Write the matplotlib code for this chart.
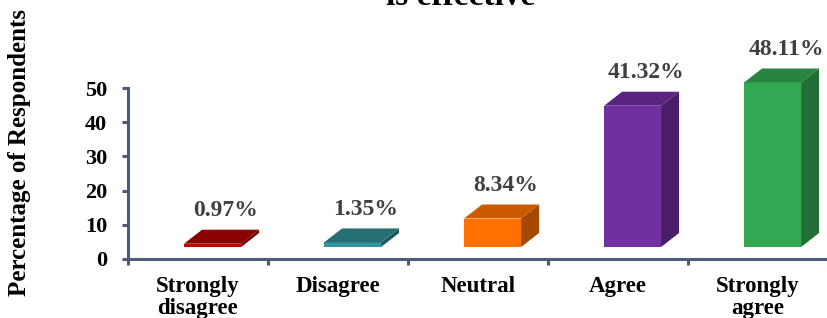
import matplotlib
matplotlib.use('Agg')
import matplotlib.pyplot as plt
from matplotlib.patches import Polygon

categories = ['Strongly\ndisagree', 'Disagree', 'Neutral', 'Agree', 'Strongly\nagree']
values = [0.97, 1.35, 8.34, 41.32, 48.11]
front_colors = ['#c00000', '#31959b', '#ff7000', '#7030a0', '#33a852']
top_colors = ['#8b0000', '#256f73', '#cc5a00', '#5a2381', '#278540']
side_colors = ['#6e0000', '#1c5a5d', '#a54800', '#4a1e66', '#226e36']
yticks = [0, 10, 20, 30, 40, 50]

plt.rcParams['font.family'] = ['Liberation Serif', 'DejaVu Serif']
plt.rcParams['font.weight'] = 'bold'

fig = plt.figure(figsize=(8.27, 3.18), dpi=100)
ax = fig.add_axes([128 / 827, 59 / 318, 700 / 827, 259 / 318])
ax.set_xlim(-0.5, 4.5)
ax.set_ylim(0, 259 / 3.42)

# fake 3d: front face + top + right side
floor = 3.5      # front face sits a bit above the axis
off = 0.104      # front face centre shift from category centre
w = 0.407
dx = 18 / 140
dy = 14 / 3.42

xs = list(range(len(values)))
ax.bar([x + off for x in xs], values, width=w, bottom=floor,
       color=front_colors, edgecolor='none', clip_on=False, zorder=3)
for x, v, tc, sc in zip(xs, values, top_colors, side_colors):
    L = x + off - w / 2
    R = x + off + w / 2
    top = floor + v
    ax.add_patch(Polygon([(L, top), (R, top), (R + dx, top + dy), (L + dx, top + dy)],
                         closed=True, color=tc, lw=0, zorder=3, clip_on=False))
    ax.add_patch(Polygon([(R, floor), (R + dx, floor + dy), (R + dx, top + dy), (R, top)],
                         closed=True, color=sc, lw=0, zorder=3, clip_on=False))
    ax.text(x + 0.2, top + dy + 5.5, f'{v:.2f}%', ha='center', va='center',
            fontsize=17, fontweight='bold', color='#404040')

axis_color = '#4b5b79'
for s in ['top', 'right']:
    ax.spines[s].set_visible(False)
ax.spines['left'].set_bounds(0, 50)
ax.spines['left'].set_color(axis_color)
ax.spines['bottom'].set_color(axis_color)
ax.spines['left'].set_linewidth(2.2)
ax.spines['bottom'].set_linewidth(2.2)

ax.set_yticks(yticks)
ax.set_yticklabels([str(t) for t in yticks], fontsize=16, fontweight='bold')
ax.tick_params(axis='y', length=4, width=2.2, color=axis_color, pad=11)

ax.set_xticks([x - 0.5 for x in range(len(values) + 1)])
ax.set_xticklabels([])
ax.set_xticks(xs, minor=True)
ax.set_xticklabels(categories, minor=True, fontsize=16.5, fontweight='bold', linespacing=1.1)
ax.tick_params(axis='x', which='minor', length=0, pad=12)
ax.tick_params(axis='x', which='major', length=4, width=2.2, color=axis_color)

fig.text(20 / 827, 165 / 318, 'Percentage of Respondents', rotation=90,
         ha='center', va='center', fontsize=18, fontweight='bold')
fig.text(461 / 827, 313 / 318, 'is effective', ha='center', va='baseline',
         fontsize=24, fontweight='bold')

fig.savefig('out.png', dpi=100)
